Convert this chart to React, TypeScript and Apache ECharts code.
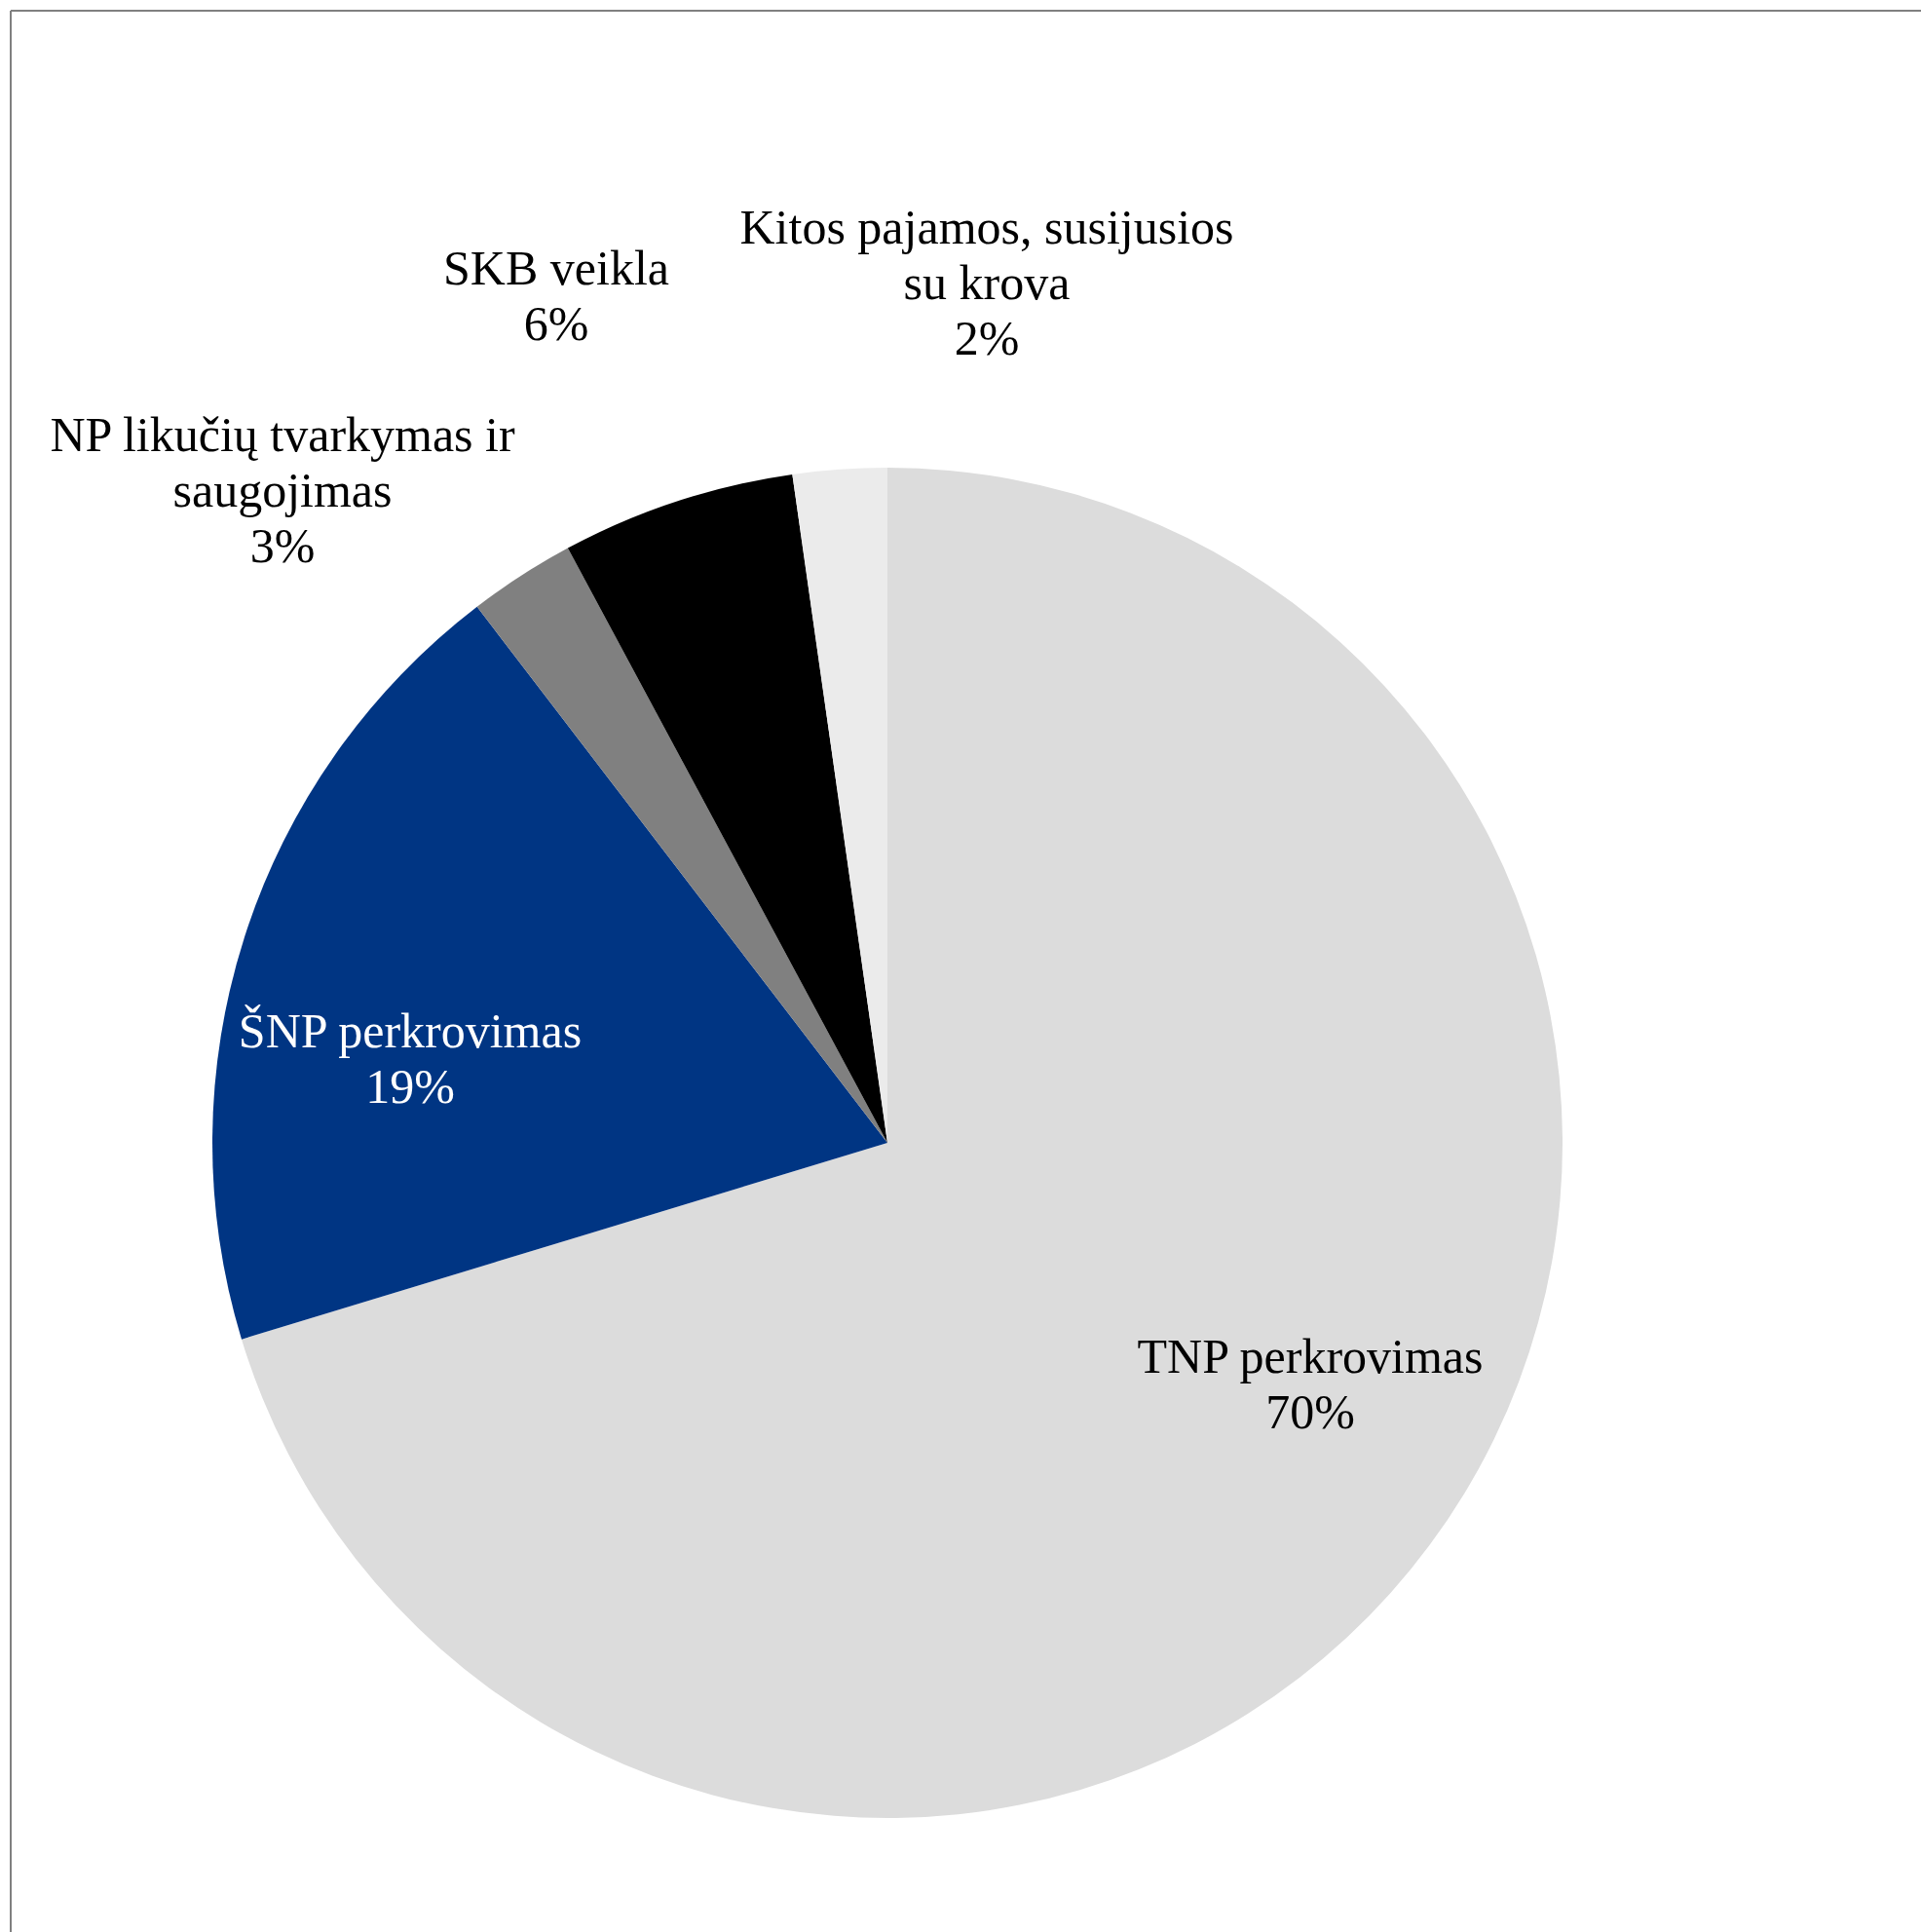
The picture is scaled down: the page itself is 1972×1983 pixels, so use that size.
import React, { useEffect, useRef } from "react";
import * as echarts from "echarts";

const categories = [
  "TNP perkrovimas",
  "ŠNP perkrovimas",
  "NP likučių tvarkymas ir\nsaugojimas",
  "SKB veikla",
  "Kitos pajamos, susijusios\nsu krova",
];
const values = [70.3, 19.3, 2.55, 5.6, 2.25];
const colors = ["#dcdcdc", "#003583", "#808080", "#000000", "#ebebeb"];
const labelColors = ["#000000", "#ffffff", "#000000", "#000000", "#000000"];
const labelPos: [number, number][] = [
  [1345, 1420],
  [421, 1086],
  [290, 503],
  [571, 303],
  [1013, 290],
];

export default function App() {
  const ref = useRef<HTMLDivElement>(null);
  useEffect(() => {
    document.body.style.margin = "0";
    const chart = echarts.init(ref.current!, null, { renderer: "svg" });
    chart.setOption({
      animation: false,
      backgroundColor: "#ffffff",
      graphic: [
        { type: "line", shape: { x1: 11, y1: 11, x2: 1972, y2: 11 }, style: { stroke: "#808080", lineWidth: 2 } },
        { type: "line", shape: { x1: 11, y1: 11, x2: 11, y2: 1983 }, style: { stroke: "#808080", lineWidth: 2 } },
      ],
      series: [
        {
          type: "pie",
          center: [911, 1173],
          radius: 693,
          startAngle: 90,
          clockwise: true,
          avoidLabelOverlap: false,
          itemStyle: { borderWidth: 0 },
          labelLine: { show: false },
          label: {
            show: true,
            fontFamily: "Liberation Serif",
            fontSize: 50,
            lineHeight: 57,
            align: "center",
            formatter: (p: any) => `${p.name}\n${Math.round(p.percent)}%`,
          },
          labelLayout: (params: any) => {
            const p = labelPos[params.dataIndex];
            return { x: p[0], y: p[1], align: "center", verticalAlign: "middle" };
          },
          data: categories.map((name, i) => ({
            name,
            value: values[i],
            itemStyle: { color: colors[i] },
            label: { color: labelColors[i] },
          })),
        },
      ],
    });
    return () => chart.dispose();
  }, []);
  return <div ref={ref} style={{ width: 1972, height: 1983, overflow: "hidden" }} />;
}
